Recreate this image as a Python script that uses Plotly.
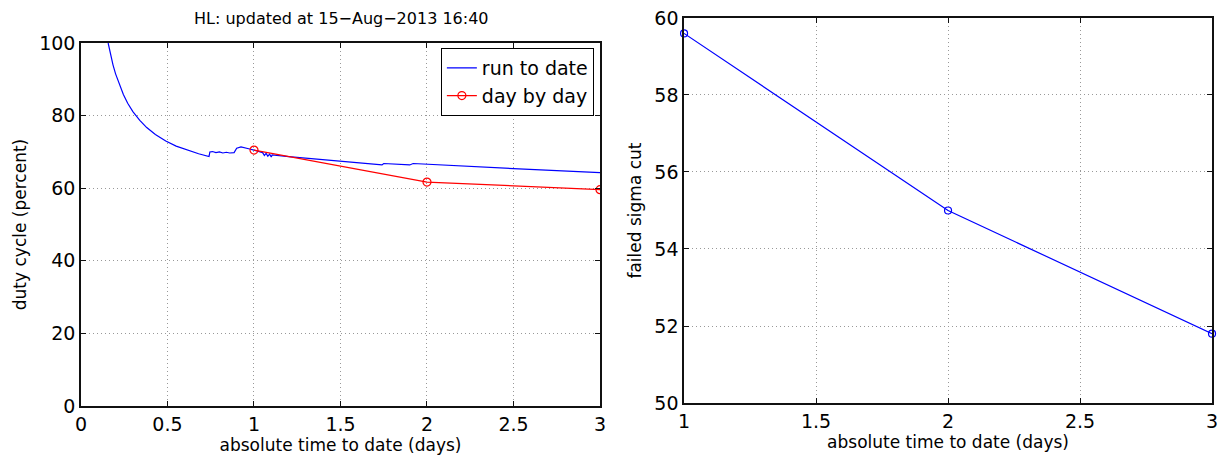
import plotly.graph_objects as go

# run to date (left panel, blue)
run_x = [0.157, 0.17, 0.185, 0.2, 0.22, 0.245, 0.27, 0.3, 0.34, 0.38, 0.43, 0.49, 0.55, 0.62, 0.68, 0.74,
         0.745, 0.76, 0.78, 0.8, 0.82, 0.84, 0.86, 0.885, 0.9, 0.925, 0.95, 0.975, 1.0, 1.03, 1.05, 1.06,
         1.07, 1.08, 1.09, 1.1, 1.105, 1.2, 1.4, 1.6, 1.74, 1.75, 1.9, 1.92, 2.0, 2.5, 3.0]
run_y = [100.0, 97.0, 94.0, 91.5, 88.7, 85.8, 83.4, 81.1, 78.7, 76.7, 74.8, 73.0, 71.6, 70.4, 69.5, 68.7,
         70.0, 70.1, 69.8, 70.0, 69.7, 69.9, 69.7, 69.8, 71.0, 71.4, 71.0, 70.8, 70.5, 70.2, 69.8, 69.0,
         69.6, 68.8, 69.4, 68.6, 69.2, 68.7, 67.8, 67.0, 66.4, 66.8, 66.4, 66.8, 66.6, 65.4, 64.3]

# day by day (left panel, red)
day_x = [1, 2, 3]
day_y = [70.5, 61.7, 59.6]

# failed sigma cut (right panel)
sig_x = [1, 2, 3]
sig_y = [59.6, 55.0, 51.8]

FONT = "DejaVu Sans, sans-serif"

fig = go.Figure()
fig.add_trace(go.Scatter(x=run_x, y=run_y, mode="lines", name="run to date",
                         line=dict(color="#0000ff", width=1.2), xaxis="x", yaxis="y"))
fig.add_trace(go.Scatter(x=day_x, y=day_y, mode="lines+markers", name="day by day",
                         line=dict(color="#ff0000", width=1.2),
                         marker=dict(symbol="circle-open", size=8, color="#ff0000", line=dict(width=1.2)),
                         xaxis="x", yaxis="y"))
fig.add_trace(go.Scatter(x=sig_x, y=sig_y, mode="lines+markers", name="failed sigma cut",
                         line=dict(color="#0000ff", width=1.2), showlegend=False,
                         marker=dict(symbol="circle-open", size=7, color="#0000ff", line=dict(width=1.2)),
                         xaxis="x2", yaxis="y2", cliponaxis=False))

axcommon = dict(showline=True, linecolor="#111111", linewidth=1.5, mirror="allticks",
                ticks="inside", ticklen=5, tickcolor="#111111", tickwidth=1,
                showgrid=True, gridcolor="#999999", griddash="1px,3px", gridwidth=1,
                zeroline=False, automargin=False,
                tickfont=dict(family=FONT, size=19, color="black"),
                title_font=dict(family=FONT, size=17, color="black"))

fig.update_layout(
    width=1227, height=460,
    margin=dict(l=0, r=0, t=0, b=0),
    paper_bgcolor="white", plot_bgcolor="white",
    font=dict(family=FONT, color="black"),
    xaxis=dict(domain=[0.0660, 0.4890], range=[0, 3], tickvals=[0, 0.5, 1, 1.5, 2, 2.5, 3],
               ticktext=["0", "0.5", "1", "1.5", "2", "2.5", "3"],
               title=dict(text="absolute time to date (days)", standoff=0), anchor="y", **axcommon),
    yaxis=dict(domain=[0.1174, 0.9065], range=[0, 100], tickvals=[0, 20, 40, 60, 80, 100],
               title=dict(text="duty cycle (percent)", standoff=8), anchor="x", **axcommon),
    xaxis2=dict(domain=[0.5575, 0.9878], range=[1, 3], tickvals=[1, 1.5, 2, 2.5, 3],
                ticktext=["1", "1.5", "2", "2.5", "3"],
                title=dict(text="absolute time to date (days)", standoff=0), anchor="y2", **axcommon),
    yaxis2=dict(domain=[0.1239, 0.9609], range=[50, 60], tickvals=[50, 52, 54, 56, 58, 60],
                title=dict(text="failed sigma cut", standoff=8), anchor="x2", **axcommon),
    legend=dict(x=0.484, y=0.8957, xanchor="right", yanchor="top",
                bgcolor="white", bordercolor="black", borderwidth=1,
                font=dict(family=FONT, size=19, color="black"),
                tracegroupgap=0, itemwidth=30),
    showlegend=True,
    annotations=[dict(text="HL: updated at 15\u2212Aug\u22122013 16:40", x=0.2787, y=1 - 18 / 460,
                      xref="paper", yref="paper", showarrow=False, xanchor="center", yanchor="middle",
                      font=dict(family=FONT, size=16, color="black"))],
)

fig.write_html("out.html")
